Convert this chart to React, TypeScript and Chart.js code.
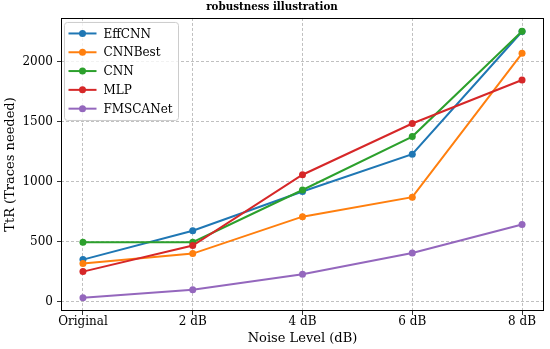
import React, { useEffect, useRef } from "react";
import { Chart, registerables } from "chart.js";

Chart.register(...registerables);

const categories = ["Original", "2 dB", "4 dB", "6 dB", "8 dB"];
const seriesNames = ["EffCNN", "CNNBest", "CNN", "MLP", "FMSCANet"];
const effCNN = [350, 590, 917, 1228, 2250];
const cnnBest = [318, 400, 708, 870, 2068];
const cnn = [495, 495, 930, 1375, 2252];
const mlp = [250, 467, 1057, 1484, 1846];
const fmscanet = [33, 100, 228, 405, 642];
const yTicks = [0, 500, 1000, 1500, 2000];
const colors = ["#1f77b4", "#ff7f0e", "#2ca02c", "#d62728", "#9467bd"];

const FONT = "'DejaVu Serif', serif";

const legendPlugin = {
  id: "inlineLegend",
  afterDraw(chart: any) {
    const { ctx, chartArea } = chart;
    ctx.save();
    ctx.strokeStyle = "#000";
    ctx.lineWidth = 1;
    ctx.setLineDash([]);
    ctx.strokeRect(
      Math.round(chartArea.left) + 0.5,
      Math.round(chartArea.top) + 0.5,
      Math.round(chartArea.right - chartArea.left) - 1,
      Math.round(chartArea.bottom - chartArea.top) - 1
    );
    const x0 = chartArea.left + 3.5;
    const y0 = chartArea.top + 4.5;
    const w = 114;
    const h = 98;
    const r = 3;
    ctx.beginPath();
    ctx.moveTo(x0 + r, y0);
    ctx.lineTo(x0 + w - r, y0);
    ctx.quadraticCurveTo(x0 + w, y0, x0 + w, y0 + r);
    ctx.lineTo(x0 + w, y0 + h - r);
    ctx.quadraticCurveTo(x0 + w, y0 + h, x0 + w - r, y0 + h);
    ctx.lineTo(x0 + r, y0 + h);
    ctx.quadraticCurveTo(x0, y0 + h, x0, y0 + h - r);
    ctx.lineTo(x0, y0 + r);
    ctx.quadraticCurveTo(x0, y0, x0 + r, y0);
    ctx.closePath();
    ctx.fillStyle = "rgba(255,255,255,0.8)";
    ctx.fill();
    ctx.strokeStyle = "#cccccc";
    ctx.stroke();
    ctx.font = `12px ${FONT}`;
    ctx.textBaseline = "middle";
    ctx.textAlign = "left";
    chart.data.datasets.forEach((ds: any, i: number) => {
      const cy = y0 + 11 + i * 18.8;
      ctx.strokeStyle = ds.borderColor;
      ctx.lineWidth = 2;
      ctx.beginPath();
      ctx.moveTo(x0 + 4, cy);
      ctx.lineTo(x0 + 32, cy);
      ctx.stroke();
      ctx.fillStyle = ds.borderColor;
      ctx.beginPath();
      ctx.arc(x0 + 18, cy, 3.5, 0, Math.PI * 2);
      ctx.fill();
      ctx.fillStyle = "#000";
      ctx.fillText(ds.label, x0 + 39, cy + 1);
    });
    ctx.restore();
  },
};

export default function App() {
  const ref = useRef<HTMLCanvasElement | null>(null);
  useEffect(() => {
    if (!ref.current) return;
    const all = [effCNN, cnnBest, cnn, mlp, fmscanet];
    const chart = new Chart(ref.current, {
      type: "line",
      data: {
        datasets: all.map((vals, i) => ({
          label: seriesNames[i],
          data: vals.map((v, j) => ({ x: j, y: v })),
          borderColor: colors[i],
          backgroundColor: colors[i],
          borderWidth: 2,
          pointRadius: 3.5,
          pointBorderWidth: 0,
          pointBackgroundColor: colors[i],
          fill: false,
          tension: 0,
          order: all.length - i,
        })),
      },
      options: {
        animation: false,
        responsive: false,
        maintainAspectRatio: false,
        layout: { padding: { left: 0, right: 6, top: 0, bottom: 0 } },
        plugins: {
          legend: { display: false },
          tooltip: { enabled: false },
          title: {
            display: true,
            text: "robustness illustration",
            color: "#000",
            font: { family: FONT, size: 10.3, weight: "bold" },
            padding: { top: 1.5, bottom: 4.1 },
          },
        },
        scales: {
          x: {
            type: "linear",
            min: -0.2,
            max: 4.2,
            afterBuildTicks: (scale: any) => {
              scale.ticks = categories.map((_, i) => ({ value: i }));
            },
            afterFit: (scale: any) => {
              scale.height = 38;
            },
            ticks: {
              callback: (v: any) => categories[Math.round(Number(v))] ?? "",
              color: "#000",
              font: { family: FONT, size: 12 },
              padding: 0,
              maxRotation: 0,
              autoSkip: false,
            },
            grid: {
              color: "#b0b0b0",
              lineWidth: 0.8,
              drawTicks: true,
              tickLength: 4,
              tickColor: "#000",
              tickBorderDash: [],
            },
            border: { display: false, dash: [3, 2] },
            title: {
              display: true,
              text: "Noise Level (dB)",
              color: "#000",
              font: { family: FONT, size: 13 },
              padding: { top: 0, bottom: 2.5 },
            },
          },
          y: {
            type: "linear",
            min: -78,
            max: 2363,
            afterBuildTicks: (scale: any) => {
              scale.ticks = yTicks.map((v) => ({ value: v }));
            },
            afterFit: (scale: any) => {
              scale.width = 61;
            },
            ticks: {
              callback: (v: any) => String(v),
              color: "#000",
              font: { family: FONT, size: 12 },
              padding: 4,
            },
            grid: {
              color: "#b0b0b0",
              lineWidth: 0.8,
              drawTicks: true,
              tickLength: 4,
              tickColor: "#000",
              tickBorderDash: [],
            },
            border: { display: false, dash: [3, 2] },
            title: {
              display: true,
              text: "TtR (Traces needed)",
              color: "#000",
              font: { family: FONT, size: 13 },
              padding: { top: 3, bottom: 0 },
            },
          },
        },
      } as any,
      plugins: [legendPlugin],
    });
    return () => chart.destroy();
  }, []);
  return (
    <div style={{ position: "absolute", left: 0, top: 0, width: 550, height: 349 }}>
      <canvas ref={ref} width={550} height={349} style={{ width: 550, height: 349 }} />
    </div>
  );
}
